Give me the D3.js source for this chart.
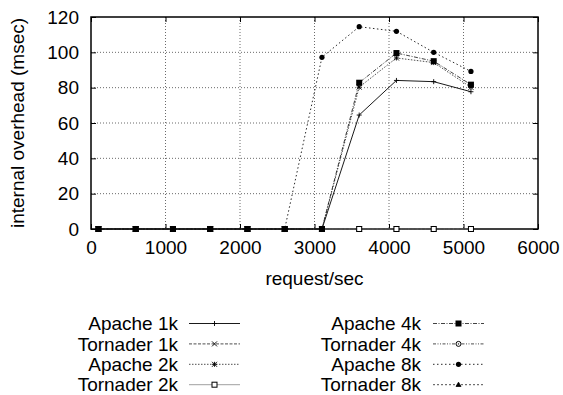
<!DOCTYPE html>
<html>
<head>
<meta charset="utf-8">
<script src="https://cdn.jsdelivr.net/npm/d3@7"></script>
<style>
  body { margin: 0; background: #fff; }
  text { font-family: "Liberation Sans", Arial, sans-serif; fill: #000; }
</style>
</head>
<body>
<svg id="chart" width="563" height="395"></svg>
<script>
// request rates (x) and overhead in msec per series
const requestRates = [100, 600, 1100, 1600, 2100, 2600, 3100, 3600, 4100, 4600, 5100];
const apache1k   = [0, 0, 0, 0, 0, 0, 0, 64.5, 84.1, 83.4, 77.7];
const tornader1k = [0, 0, 0, 0, 0, 0, 0, 0, 0, 0, 0];
const apache2k   = [0, 0, 0, 0, 0, 0, 0, 80.3, 96.8, 94.2, 80.2];
const tornader2k = [0, 0, 0, 0, 0, 0, 0, 0, 0, 0, 0];
const apache4k   = [0, 0, 0, 0, 0, 0, 0, 82.8, 99.6, 95.0, 81.7];
const tornader4k = [0, 0, 0, 0, 0, 0, 0, 0, 0, 0, 0];
const apache8k   = [0, 0, 0, 0, 0, 0, 97.2, 114.5, 111.9, 100.0, 89.2];
const tornader8k = [0, 0, 0, 0, 0, 0, 0, 0, 0, 0, 0];

const seriesNames = ['Apache 1k', 'Tornader 1k', 'Apache 2k', 'Tornader 2k',
                     'Apache 4k', 'Tornader 4k', 'Apache 8k', 'Tornader 8k'];
const seriesValues = [apache1k, tornader1k, apache2k, tornader2k,
                      apache4k, tornader4k, apache8k, tornader8k];
const xTicks = [0, 1000, 2000, 3000, 4000, 5000, 6000];
const yTicks = [0, 20, 40, 60, 80, 100, 120];

// line styles / markers (gnuplot-like)
const styles = {
    'Apache 1k':   { dash: null,          color: '#000', width: 0.9, marker: 'plus' },
    'Tornader 1k': { dash: '3,1.5',       color: '#222', width: 0.8, marker: 'cross' },
    'Apache 2k':   { dash: '1.5,1.5',     color: '#222', width: 0.8, marker: 'star' },
    'Tornader 2k': { dash: null,          color: '#888', width: 0.8, marker: 'openSquare' },
    'Apache 4k':   { dash: '4,1.5,1,1.5', color: '#111', width: 0.8, marker: 'square' },
    'Tornader 4k': { dash: '3,1.5,1,1.5,1,1.5', color: '#222', width: 0.8, marker: 'openCircle' },
    'Apache 8k':   { dash: '1.5,2.5',     color: '#111', width: 0.9, marker: 'circle' },
    'Tornader 8k': { dash: '2,2',         color: '#222', width: 0.8, marker: 'triangle' }
};
// drawing order so zero-line markers look like the original
const drawOrder = ['Tornader 1k', 'Tornader 4k', 'Tornader 8k', 'Tornader 2k',
                   'Apache 8k', 'Apache 1k', 'Apache 2k', 'Apache 4k'];

const margin = { left: 91, top: 17, right: 25, bottom: 166 };
const width = 563 - margin.left - margin.right;
const height = 395 - margin.top - margin.bottom;

const svg = d3.select('#chart');
const g = svg.append('g').attr('transform', `translate(${margin.left},${margin.top})`);

const x = d3.scaleLinear().domain([0, 6000]).range([0, width]);
const y = d3.scaleLinear().domain([0, 120]).range([height, 0]);

// grid
g.append('g')
    .selectAll('line')
    .data(xTicks.slice(1, -1))
    .enter()
    .append('line')
    .attr('x1', d => x(d)).attr('x2', d => x(d))
    .attr('y1', 0).attr('y2', height)
    .attr('stroke', '#444').attr('stroke-width', 0.8)
    .attr('stroke-dasharray', '1,2');
g.append('g')
    .selectAll('line')
    .data(yTicks.slice(1, -1))
    .enter()
    .append('line')
    .attr('x1', 0).attr('x2', width)
    .attr('y1', d => y(d)).attr('y2', d => y(d))
    .attr('stroke', '#444').attr('stroke-width', 0.8)
    .attr('stroke-dasharray', '1,2');

// axes (ticks inward, mirrored)
const tick = 5;
g.append('g')
    .call(d3.axisLeft(y).tickValues(yTicks).tickSize(-tick).tickPadding(12).tickFormat(d3.format('d')));
g.append('g').attr('transform', `translate(${width},0)`)
    .call(d3.axisRight(y).tickValues(yTicks).tickSize(-tick).tickFormat(''));
g.append('g').attr('transform', `translate(0,${height})`)
    .call(d3.axisBottom(x).tickValues(xTicks).tickSize(-tick).tickPadding(12).tickFormat(d3.format('d')));
g.append('g')
    .call(d3.axisTop(x).tickValues(xTicks).tickSize(-tick).tickFormat(''));
g.selectAll('.domain').remove();
g.selectAll('.tick line').attr('stroke', '#000');
g.selectAll('.tick text').attr('font-size', '19px').attr('fill', '#000');

// border
g.append('rect')
    .attr('width', width).attr('height', height)
    .attr('fill', 'none').attr('stroke', '#000').attr('stroke-width', 1.5);

// markers
const markerPath = (type, s) => {
    switch (type) {
        case 'plus': return `M${-s},0H${s}M0,${-s}V${s}`;
        case 'cross': return `M${-s},${-s}L${s},${s}M${-s},${s}L${s},${-s}`;
        case 'star': return `M${-s},0H${s}M0,${-s}V${s}M${-s},${-s}L${s},${s}M${-s},${s}L${s},${-s}`;
        case 'triangle': return `M0,${-s}L${s},${s * 0.7}L${-s},${s * 0.7}Z`;
        default: return '';
    }
};
const drawMarker = (sel, type, cx, cy) => {
    const mg = sel.append('g').attr('transform', `translate(${cx},${cy})`);
    if (type === 'square') {
        mg.append('rect').attr('x', -3).attr('y', -3).attr('width', 6).attr('height', 6).attr('fill', '#000');
    } else if (type === 'openSquare') {
        mg.append('rect').attr('x', -2.5).attr('y', -2.5).attr('width', 5).attr('height', 5)
            .attr('fill', '#fff').attr('stroke', '#000').attr('stroke-width', 1);
    } else if (type === 'circle') {
        mg.append('circle').attr('r', 2.6).attr('fill', '#000');
    } else if (type === 'openCircle') {
        mg.append('circle').attr('r', 2.5).attr('fill', '#fff').attr('stroke', '#000').attr('stroke-width', 1);
        mg.append('circle').attr('r', 0.7).attr('fill', '#000');
    } else if (type === 'triangle') {
        mg.append('path').attr('d', markerPath(type, 2.5)).attr('fill', '#000').attr('stroke', '#000').attr('stroke-width', 0.8);
    } else {
        mg.append('path').attr('d', markerPath(type, 2.5)).attr('fill', 'none').attr('stroke', '#000').attr('stroke-width', 0.9);
    }
};

const line = d3.line().x(d => x(d[0])).y(d => y(d[1]));
const plot = g.append('g');

drawOrder.forEach(name => {
    const st = styles[name];
    const vals = seriesValues[seriesNames.indexOf(name)];
    const pts = requestRates.map((r, i) => [r, vals[i]]);
    plot.append('path')
        .datum(pts)
        .attr('d', line)
        .attr('fill', 'none')
        .attr('stroke', st.color)
        .attr('stroke-width', st.width)
        .attr('stroke-dasharray', st.dash);
});
drawOrder.forEach(name => {
    const st = styles[name];
    const vals = seriesValues[seriesNames.indexOf(name)];
    requestRates.forEach((r, i) => drawMarker(plot, st.marker, x(r), y(vals[i])));
});

// axis titles
svg.append('text')
    .attr('x', margin.left + width / 2).attr('y', 285)
    .attr('text-anchor', 'middle').attr('font-size', '19px')
    .text('request/sec');
svg.append('text')
    .attr('transform', `translate(24,${margin.top + height / 2}) rotate(-90)`)
    .attr('text-anchor', 'middle').attr('font-size', '19px')
    .text('internal overhead (msec)');

// legend: two columns of four
const legendRowY = 323.5;
const legendRowH = 20.4;
const legendCols = [{ textX: 178, lineX: 189 }, { textX: 421, lineX: 433 }];
const sampleW = 51;
seriesNames.forEach((name, i) => {
    const col = legendCols[Math.floor(i / 4)];
    const cy = legendRowY + (i % 4) * legendRowH;
    const st = styles[name];
    svg.append('text')
        .attr('x', col.textX).attr('y', cy)
        .attr('dy', '0.35em')
        .attr('text-anchor', 'end').attr('font-size', '19px')
        .text(name);
    svg.append('line')
        .attr('x1', col.lineX).attr('x2', col.lineX + sampleW)
        .attr('y1', cy).attr('y2', cy)
        .attr('stroke', st.color).attr('stroke-width', st.width)
        .attr('stroke-dasharray', st.dash);
    drawMarker(svg, st.marker, col.lineX + sampleW / 2, cy);
});
</script>
</body>
</html>
